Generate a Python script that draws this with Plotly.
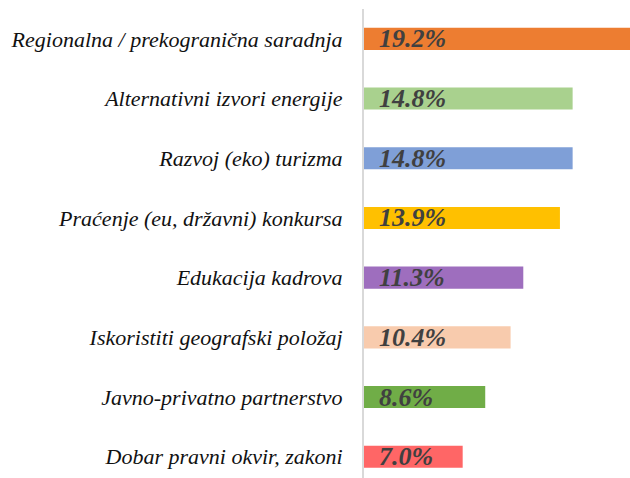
import plotly.graph_objects as go

# Categories, top to bottom, with their share (%) and bar colours
categories = [
    "Regionalna / prekogranična saradnja",
    "Alternativni izvori energije",
    "Razvoj (eko) turizma",
    "Praćenje (eu, državni) konkursa",
    "Edukacija kadrova",
    "Iskoristiti geografski položaj",
    "Javno-privatno partnerstvo",
    "Dobar pravni okvir, zakoni",
]
values = [19.2, 14.8, 14.8, 13.9, 11.3, 10.4, 8.6, 7.0]
colors = ["#ED7D31", "#A9D18E", "#7F9FD7", "#FFC000",
          "#9E6EBE", "#F8CBAD", "#70AD47", "#FF6666"]

serif = "Liberation Serif, DejaVu Serif, serif"

fig = go.Figure(go.Bar(
    x=values,
    y=categories,
    orientation="h",
    marker=dict(color=colors, line=dict(width=0)),
    hoverinfo="skip",
))

# value labels inside the bars, left aligned
for cat, val in zip(categories, values):
    fig.add_annotation(
        x=0, y=cat, xref="x", yref="y",
        text=f"<b><i>{val:.1f}%</i></b>",
        showarrow=False, xanchor="left", yanchor="middle",
        xshift=13, yshift=0,
        font=dict(family=serif, size=26, color="#404040"),
    )

fig.update_layout(
    width=630, height=478,
    margin=dict(l=364, r=0, t=9, b=0),
    paper_bgcolor="white", plot_bgcolor="white",
    bargap=0.63,
    showlegend=False,
    xaxis=dict(range=[0, 18.87], visible=False, fixedrange=True),
    yaxis=dict(
        categoryorder="array", categoryarray=categories,
        range=[7.356, -0.5],
        showline=True, linecolor="#D9D9D9", linewidth=2,
        showgrid=False, zeroline=False, ticks="",
        ticklabelstandoff=15,
        tickfont=dict(family=serif, size=22, color="#111111", style="italic"),
    ),
)

fig.write_html("out.html")
